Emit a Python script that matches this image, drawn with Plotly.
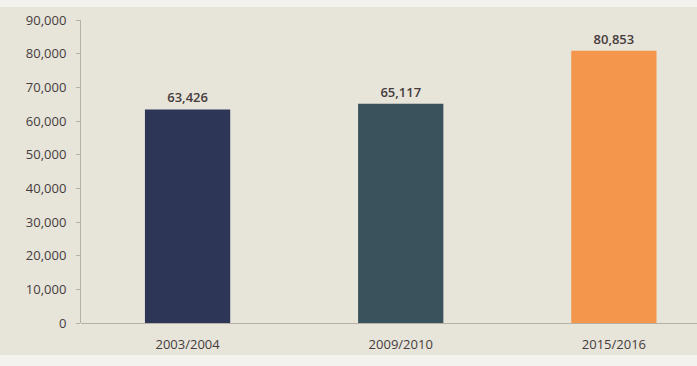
import plotly.graph_objects as go

# Academic years and enrolment totals
periods = ["2003/2004", "2009/2010", "2015/2016"]
totals = [63426, 65117, 80853]
bar_colors = ["#2e3658", "#39525c", "#f4964b"]

tick_vals = list(range(0, 90001, 10000))
tick_text = [f"{v:,}" for v in tick_vals]

text_color = "#463c3c"
font_family = "Open Sans, Noto Sans, sans-serif"

fig = go.Figure(
    go.Bar(
        x=periods,
        y=totals,
        marker=dict(color=bar_colors, line=dict(width=0)),
        width=0.4,
        text=[f"{v:,}" for v in totals],
        textposition="outside",
        textfont=dict(size=13, color=text_color, family=font_family, weight=600),
        cliponaxis=False,
    )
)

fig.update_layout(
    width=697,
    height=366,
    margin=dict(l=81, r=0, t=20, b=43),
    paper_bgcolor="#f3f2ee",
    plot_bgcolor="rgba(0,0,0,0)",
    showlegend=False,
    font=dict(family=font_family, color=text_color, size=13),
    shapes=[
        dict(
            type="rect", xref="paper", yref="paper",
            x0=-0.1315, x1=1.0, y0=-0.106, y1=1.043,
            fillcolor="#e7e4da", line=dict(width=0), layer="below",
        )
    ],
)

fig.update_xaxes(
    range=[-0.5, 2.39],
    showgrid=False,
    showline=False,
    ticks="",
    ticklabelstandoff=12,
    tickfont=dict(size=13, color=text_color, weight=500),
)

fig.update_yaxes(
    range=[0, 90000],
    tickvals=tick_vals,
    ticktext=tick_text,
    showgrid=False,
    showline=True,
    linecolor="#b4b0a6",
    linewidth=1,
    ticks="outside",
    ticklen=4,
    tickcolor="#b4b0a6",
    ticklabelstandoff=7,
    tickfont=dict(size=13, color=text_color, weight=500),
    zeroline=True,
    zerolinecolor="#b4b0a6",
    zerolinewidth=1,
)

fig.write_html("out.html")
